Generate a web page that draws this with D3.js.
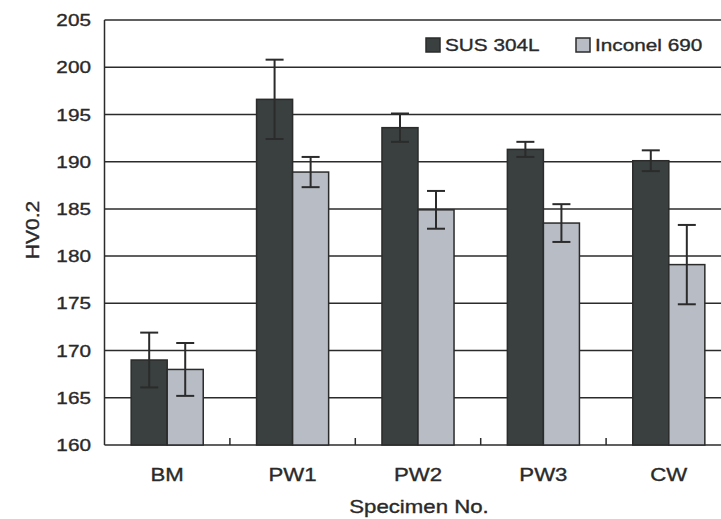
<!DOCTYPE html>
<html>
<head>
<meta charset="utf-8">
<script src="https://cdn.jsdelivr.net/npm/d3@7"></script>
<style>
  body { margin: 0; background: #fff; }
  text { font-family: "Liberation Sans", Arial, sans-serif; fill: #2a2a2a; stroke: #2a2a2a; stroke-width: 0.35px; }
</style>
</head>
<body>
<div class="canvas"></div>
<script>
const w = 721;
const h = 519;
const margin = {top: 20, bottom: 74, left: 104.5, right: -10.5};

const categories = ["BM", "PW1", "PW2", "PW3", "CW"];
const series = ["SUS 304L", "Inconel 690"];
const susValues = [169.0, 196.6, 193.6, 191.3, 190.1];
const susErr = [2.9, 4.2, 1.5, 0.8, 1.1];
const incValues = [168.0, 188.9, 184.9, 183.5, 179.1];
const incErr = [2.8, 1.6, 2.0, 2.0, 4.2];
const yTicks = [160, 165, 170, 175, 180, 185, 190, 195, 200, 205];

const colors = d3.scaleOrdinal().domain(series).range(["#39403f", "#b8bcc5"]);
const lineCol = "#2b2b2b";

// stretch text horizontally, the source font is wide
function stretch(sel, k) {
  sel.each(function() {
    const len = this.getComputedTextLength();
    d3.select(this).attr("textLength", len * k).attr("lengthAdjust", "spacingAndGlyphs");
  });
}

const svg = d3.select(".canvas")
  .append("svg")
  .attr("width", w)
  .attr("height", h);

const x0 = d3.scaleBand()
  .domain(categories)
  .range([margin.left, w - margin.right]);

const x1 = d3.scaleBand()
  .domain(series)
  .range([0, x0.bandwidth()])
  .paddingOuter(0.74);

const y = d3.scaleLinear()
  .domain([160, 205])
  .range([h - margin.bottom, margin.top]);

// gridlines
svg.append("g")
  .selectAll("line")
  .data(yTicks)
  .enter().append("line")
  .attr("x1", margin.left)
  .attr("x2", w - margin.right)
  .attr("y1", d => y(d))
  .attr("y2", d => y(d))
  .attr("stroke", lineCol)
  .attr("stroke-width", 1.5);

// y axis line
svg.append("line")
  .attr("x1", margin.left).attr("x2", margin.left)
  .attr("y1", y(160)).attr("y2", y(205))
  .attr("stroke", lineCol)
  .attr("stroke-width", 1.5);

// category separator ticks
svg.append("g")
  .selectAll("line")
  .data(categories.slice(1))
  .enter().append("line")
  .attr("x1", d => x0(d))
  .attr("x2", d => x0(d))
  .attr("y1", y(160))
  .attr("y2", y(160) - 7)
  .attr("stroke", lineCol)
  .attr("stroke-width", 1.5);

const rows = categories.map((c, i) => ({
  cat: c,
  vals: [
    {s: series[0], v: susValues[i], e: susErr[i]},
    {s: series[1], v: incValues[i], e: incErr[i]}
  ]
}));

const groups = svg.append("g")
  .selectAll("g")
  .data(rows)
  .enter().append("g")
  .attr("transform", d => "translate(" + x0(d.cat) + ",0)");

const bars = groups.selectAll("g")
  .data(d => d.vals)
  .enter().append("g");

bars.append("rect")
  .attr("x", d => x1(d.s))
  .attr("width", x1.bandwidth())
  .attr("y", d => y(d.v))
  .attr("height", d => y(160) - y(d.v))
  .attr("fill", d => colors(d.s))
  .attr("stroke", lineCol)
  .attr("stroke-width", 1.5);

// error bars
const cap = 9;
bars.append("line")
  .attr("x1", d => x1(d.s) + x1.bandwidth() / 2)
  .attr("x2", d => x1(d.s) + x1.bandwidth() / 2)
  .attr("y1", d => y(d.v + d.e))
  .attr("y2", d => y(d.v - d.e))
  .attr("stroke", lineCol)
  .attr("stroke-width", 2);
bars.append("line")
  .attr("x1", d => x1(d.s) + x1.bandwidth() / 2 - cap)
  .attr("x2", d => x1(d.s) + x1.bandwidth() / 2 + cap)
  .attr("y1", d => y(d.v + d.e))
  .attr("y2", d => y(d.v + d.e))
  .attr("stroke", lineCol)
  .attr("stroke-width", 2);
bars.append("line")
  .attr("x1", d => x1(d.s) + x1.bandwidth() / 2 - cap)
  .attr("x2", d => x1(d.s) + x1.bandwidth() / 2 + cap)
  .attr("y1", d => y(d.v - d.e))
  .attr("y2", d => y(d.v - d.e))
  .attr("stroke", lineCol)
  .attr("stroke-width", 2);

// y tick labels
svg.append("g")
  .selectAll("text")
  .data(yTicks)
  .enter().append("text")
  .attr("x", 91)
  .attr("y", d => y(d))
  .attr("dy", "0.36em")
  .attr("text-anchor", "end")
  .style("font-size", "17px")
  .text(d => d)
  .call(stretch, 1.22);

// category labels
svg.append("g")
  .selectAll("text")
  .data(categories)
  .enter().append("text")
  .attr("x", d => x0(d) + x0.bandwidth() / 2)
  .attr("y", 481)
  .attr("text-anchor", "middle")
  .style("font-size", "18.5px")
  .text(d => d)
  .call(stretch, 1.2);

// axis titles
svg.append("text")
  .attr("x", 419)
  .attr("y", 513)
  .attr("text-anchor", "middle")
  .style("font-size", "18.5px")
  .text("Specimen No.")
  .call(stretch, 1.2);

svg.append("text")
  .attr("transform", "translate(39,230) rotate(-90)")
  .attr("text-anchor", "middle")
  .style("font-size", "17.5px")
  .text("HV0.2")
  .call(stretch, 1.2);

// legend
const legendX = [426, 576];
const legend = svg.append("g")
  .selectAll("g")
  .data(series)
  .enter().append("g")
  .attr("transform", (d, i) => "translate(" + legendX[i] + ",38)");

legend.append("rect")
  .attr("width", 14)
  .attr("height", 14)
  .attr("fill", colors)
  .attr("stroke", lineCol)
  .attr("stroke-width", 1.5);

legend.append("text")
  .attr("x", 19)
  .attr("y", 13)
  .style("font-size", "17px")
  .text(d => d)
  .call(stretch, 1.22);
</script>
</body>
</html>
